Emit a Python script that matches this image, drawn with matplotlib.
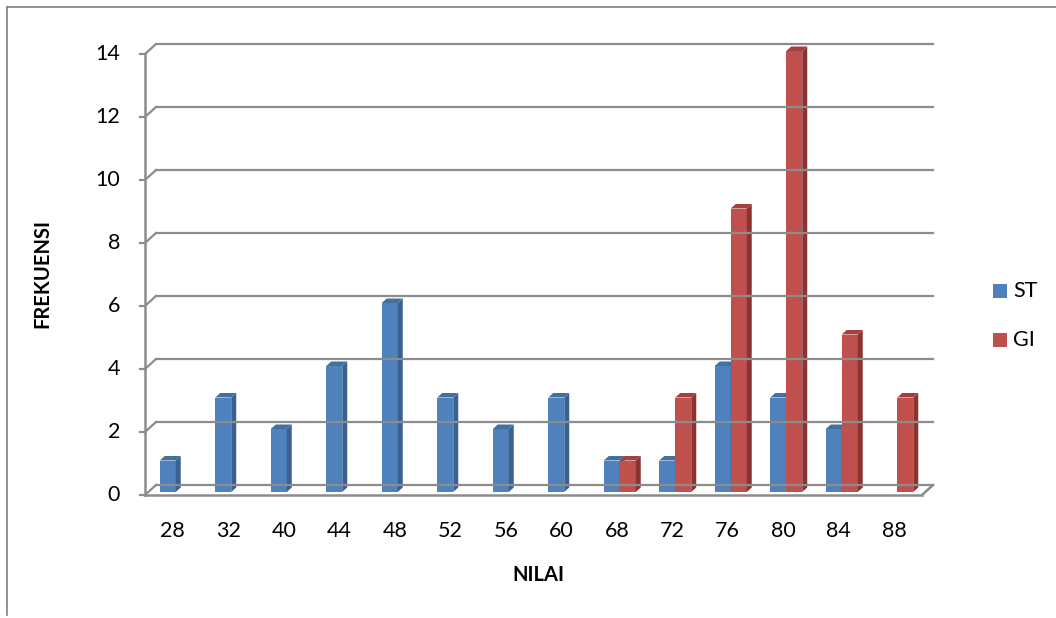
import matplotlib
matplotlib.use("Agg")
import matplotlib.pyplot as plt
from matplotlib.patches import Polygon, Rectangle
from matplotlib.lines import Line2D

plt.rcParams['font.family'] = ['Lato', 'DejaVu Sans']

categories = ["28", "32", "40", "44", "48", "52", "56", "60", "68", "72", "76", "80", "84", "88"]
st_values = [1, 3, 2, 4, 6, 3, 2, 3, 1, 1, 4, 3, 2, 0]
gi_values = [0, 0, 0, 0, 0, 0, 0, 0, 1, 3, 9, 14, 5, 3]
series_names = ["ST", "GI"]
y_ticks = [0, 2, 4, 6, 8, 10, 12, 14]

W, H = 1056, 618
fig = plt.figure(figsize=(W / 100, H / 100), dpi=100)
fig.patch.set_facecolor("white")

# front axis region in pixels
x0_px, x1_px = 145, 922
y0_px, y1_px = 495, 54
ax = fig.add_axes([x0_px / W, 1 - y0_px / H, (x1_px - x0_px) / W, (y0_px - y1_px) / H])
n = len(categories)
ymax = 14
ax.set_xlim(0, n)
ax.set_ylim(0, ymax)
ax.axis("off")

px = n / (x1_px - x0_px)
py = ymax / (y0_px - y1_px)

grid_c = "#8c8c8c"
wdx, wdy = 11 * px, 10 * py  # wall depth

# gridlines on back wall and left wall
for v in y_ticks:
    ax.add_line(Line2D([0, wdx], [v, v + wdy], color=grid_c, lw=1.6, clip_on=False))
    ax.add_line(Line2D([wdx, n + wdx], [v + wdy, v + wdy], color=grid_c, lw=1.6, clip_on=False))
    ax.add_line(Line2D([-5 * px, 0], [v, v], color=grid_c, lw=1.6, clip_on=False))
    ax.text(-25 * px, v, str(v), ha="right", va="center", fontsize=15.5, color="black")

# floor & axis
ax.add_line(Line2D([0, n], [0, 0], color=grid_c, lw=1.8, clip_on=False))
ax.add_line(Line2D([n, n + wdx], [0, wdy], color=grid_c, lw=1.8, clip_on=False))
ax.add_line(Line2D([0, 0], [0, ymax], color=grid_c, lw=1.8, clip_on=False))

# bars
bw = 16 * px
fdx, fdy = 3 * px, 3 * py   # front face offset into depth
bdx, bdy = 5 * px, 4.5 * py  # bar depth

colors = {
    "ST": ("#4f81bd", "#3a6190", "#44709f"),
    "GI": ("#c0504d", "#8a3432", "#a5403d"),
}

def draw_bar(xl, v, cols):
    front, side, top = cols
    xb = xl + fdx
    yb = fdy
    ax.add_patch(Rectangle((xb, yb), bw, v, facecolor=front, edgecolor="none", clip_on=False))
    ax.add_patch(Polygon([(xb + bw, yb), (xb + bw + bdx, yb + bdy), (xb + bw + bdx, yb + v + bdy), (xb + bw, yb + v)],
                         closed=True, facecolor=side, edgecolor="none", clip_on=False))
    ax.add_patch(Polygon([(xb, yb + v), (xb + bdx, yb + v + bdy), (xb + bw + bdx, yb + v + bdy), (xb + bw, yb + v)],
                         closed=True, facecolor=top, edgecolor="none", clip_on=False))

for i in range(n):
    c = i + 0.5
    if st_values[i] > 0:
        draw_bar(c - bw, st_values[i], colors["ST"])
    if gi_values[i] > 0:
        draw_bar(c, gi_values[i], colors["GI"])
    ax.text(c, -36 * py, categories[i], ha="center", va="center", fontsize=15.5, color="black")

fig.text(538 / W, 1 - 575 / H, "NILAI", ha="center", va="center", fontsize=14.5, fontweight="bold")
fig.text(42 / W, 1 - 273 / H, "FREKUENSI", ha="center", va="center", rotation=90, fontsize=14.5, fontweight="bold")

# legend
for k, name in enumerate(series_names):
    yc = 291 + k * 49
    fig.patches.append(Rectangle((993 / W, 1 - (yc + 7) / H), 14 / W, 14 / H, transform=fig.transFigure,
                                 facecolor=colors[name][0], edgecolor="none"))
    fig.text(1013 / W, 1 - yc / H, name, ha="left", va="center", fontsize=15.5)

# outer border (top & left)
fig.add_artist(Line2D([7 / W, 1], [1 - 7 / H, 1 - 7 / H], transform=fig.transFigure, color="#7f7f7f", lw=1.2))
fig.add_artist(Line2D([7 / W, 7 / W], [1 - 7 / H, 1 - 615 / H], transform=fig.transFigure, color="#7f7f7f", lw=1.2))

fig.savefig("out.png", dpi=100, facecolor="white")
